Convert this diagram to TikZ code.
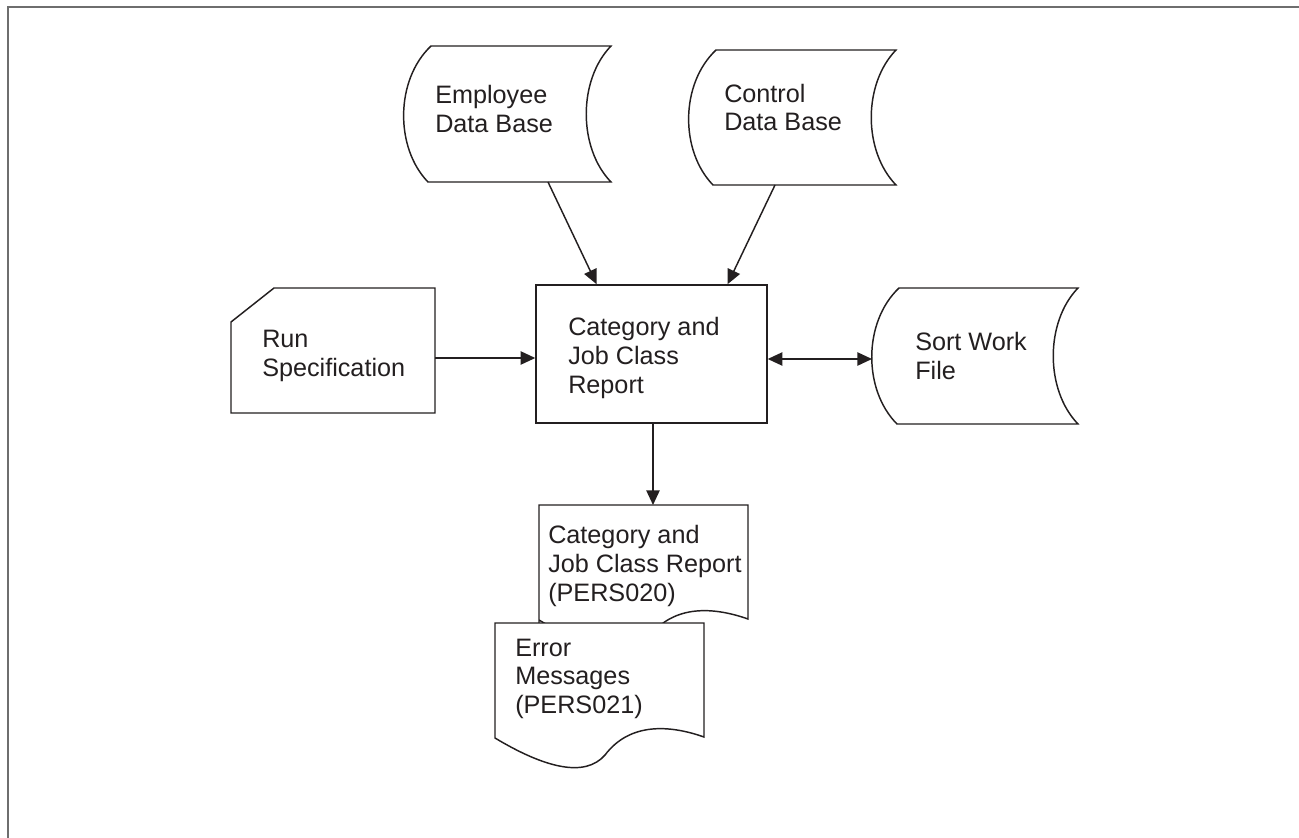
\documentclass[tikz,border=0pt]{standalone}
\usepackage{fontspec}
\setmainfont{Liberation Sans}
\usetikzlibrary{arrows.meta,calc}

\definecolor{ink}{RGB}{35,31,32}
\definecolor{framegray}{RGB}{110,110,110}

\tikzset{
  x=0.75pt, y=-0.75pt,
  shapeline/.style={draw=ink, line width=1.1pt, line join=miter, fill=white},
  label/.style={anchor=west, align=left, text=ink, inner sep=0pt,
    font=\fontsize{18.9}{21.4}\selectfont},
  flow/.style={draw=ink, line width=1.1pt,
    -{Triangle[length=11pt,width=10pt]}},
  twoway/.style={draw=ink, line width=1.1pt,
    {Triangle[length=11pt,width=10pt]}-{Triangle[length=11pt,width=10pt]}},
}

\begin{document}
\begin{tikzpicture}
\useasboundingbox (0,0) rectangle (1299,838);

% page frame (left and top rules)
\draw[framegray, line width=1.6pt] (8,838) -- (8,7) -- (1299,7);

% stored data: Employee Data Base
\draw[shapeline] (431,46) -- (611,46)
  .. controls (578,80) and (578,148) .. (611,182)
  -- (428,182)
  .. controls (395,148) and (395,80) .. (431,46) -- cycle;
\node[label] (emp) at (435,109) {Employee\\Data Base};
\coordinate (emp-out) at (548,182);

% stored data: Control Data Base
\draw[shapeline] (716,50) -- (896,50)
  .. controls (863,84) and (863,151) .. (896,185)
  -- (713,185)
  .. controls (680,151) and (680,84) .. (716,50) -- cycle;
\node[label] (ctl) at (724,107.5) {Control\\Data Base};
\coordinate (ctl-out) at (775,185);

% manual input: Run Specification
\draw[shapeline] (231,322) -- (274,288) -- (435,288) -- (435,413) -- (231,413) -- cycle;
\node[label] (run) at (262,356) {Run\\Specification};
\coordinate (run-out) at (435,358);

% process box
\node[shapeline, rectangle, minimum width=231*0.75pt, minimum height=138*0.75pt,
  inner sep=0pt] (proc) at (651.5,354) {};
\node[label] (proctext) at (568,358) {Category and\\Job Class\\Report};

% stored data: Sort Work File
\draw[shapeline] (899,288) -- (1078,288)
  .. controls (1045,322) and (1045,390) .. (1078,424)
  -- (897,424)
  .. controls (863,390) and (863,322) .. (899,288) -- cycle;
\node[label] (sort) at (915,356) {Sort Work\\File};
\coordinate (sort-in) at (872,359);

% document: Category and Job Class Report (PERS020)
\draw[shapeline] (539,630) -- (539,505) -- (748,505) -- (748,619)
  .. controls (714,607) and (674,604) .. (649,637)
  .. controls (629,660) and (589,650) .. (539,620);
\node[label] (rpt) at (548,566) {Category and\\Job Class Report\\(PERS020)};
\coordinate (rpt-in) at (653,505);

% document: Error Messages (PERS021)
\draw[shapeline] (495,738) -- (495,623) -- (704,623) -- (704,737)
  .. controls (670,725) and (630,722) .. (605,755)
  .. controls (585,778) and (545,768) .. (495,738) -- cycle;
\node[label] (err) at (515,678.5) {Error\\Messages\\(PERS021)};

% connectors
\draw[flow] (emp-out) -- ($(proc.north west)!0.264!(proc.north east)$);
\draw[flow] (ctl-out) -- ($(proc.north west)!0.827!(proc.north east)$);
\draw[flow] (run-out) -- (run-out -| proc.west);
\draw[twoway] (sort-in -| proc.east) -- (sort-in);
\draw[flow] (proc.south -| rpt-in) -- (rpt-in);
\end{tikzpicture}
\end{document}
